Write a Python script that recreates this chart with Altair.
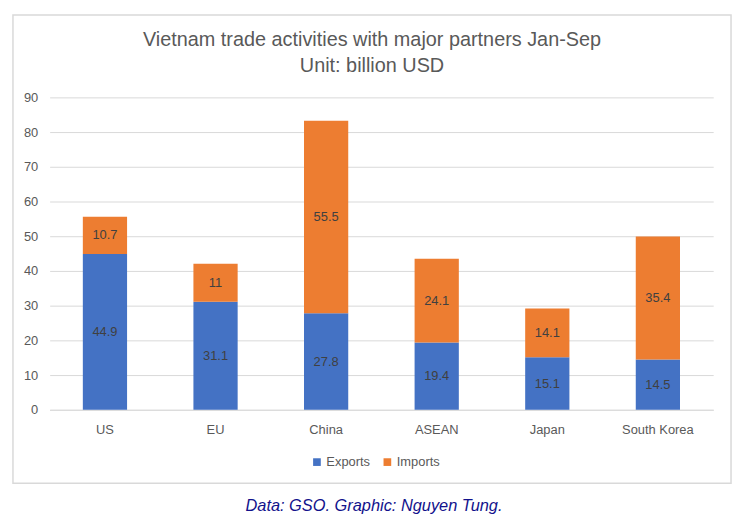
import altair as alt
import pandas as pd

categories = ["US", "EU", "China", "ASEAN", "Japan", "South Korea"]
exports = [44.9, 31.1, 27.8, 19.4, 15.1, 14.5]
imports = [10.7, 11, 55.5, 24.1, 14.1, 35.4]
series = ["Exports", "Imports"]
colors = ["#4472C4", "#ED7D31"]
y_ticks = [0, 10, 20, 30, 40, 50, 60, 70, 80, 90]
title_lines = ["Vietnam trade activities with major partners Jan-Sep", "Unit: billion USD"]
caption = "Data: GSO. Graphic: Nguyen Tung."

rows = []
for c, e, i in zip(categories, exports, imports):
    rows.append({"partner": c, "series": "Exports", "value": e, "ord": 0})
    rows.append({"partner": c, "series": "Imports", "value": i, "ord": 1})
df = pd.DataFrame(rows)

FONT = "Liberation Sans"
yscale = alt.Scale(domain=[0, 90], nice=False)
xscale = alt.Scale(paddingInner=0.6, paddingOuter=0.3)

xaxis = alt.Axis(title=None, labelAngle=0, ticks=False, domainColor="#D9D9D9",
                 labelColor="#595959", labelFontSize=13, labelFont=FONT,
                 labelPadding=14, grid=False)
yaxis = alt.Axis(title=None, values=y_ticks, labelOverlap=False,
                 domain=False, ticks=False,
                 gridColor="#D9D9D9", labelColor="#595959", labelFontSize=13,
                 labelFont=FONT, labelPadding=12)

base = alt.Chart(df).transform_stack(
    stack="value", groupby=["partner"], as_=["v0", "v1"],
    sort=[alt.SortField("ord", order="ascending")]
).transform_calculate(mid="(datum.v0 + datum.v1) / 2")

bars = base.mark_bar().encode(
    x=alt.X("partner:N", sort=categories, scale=xscale, axis=xaxis),
    y=alt.Y("v0:Q", scale=yscale, axis=yaxis),
    y2="v1:Q",
    color=alt.Color("series:N", scale=alt.Scale(domain=series, range=colors),
                    legend=alt.Legend(title=None, orient="none", direction="horizontal",
                                      legendX=263, legendY=361, symbolType="square",
                                      symbolSize=60, symbolStrokeWidth=0,
                                      labelFontSize=13, labelFont=FONT,
                                      labelColor="#595959", columnPadding=10,
                                      labelOffset=3)),
)

labels = base.mark_text(font=FONT, fontSize=13, color="#404040").encode(
    x=alt.X("partner:N", sort=categories, scale=xscale, axis=xaxis),
    y=alt.Y("mid:Q", scale=yscale, axis=yaxis),
    text=alt.Text("value:Q"),
)

one = alt.Data(values=[{"t1": title_lines[0], "t2": title_lines[1], "cap": caption}])

frame = alt.Chart(one).mark_rect(fill="transparent", stroke="#D9D9D9", strokeWidth=1.5).encode(
    x=alt.value(-37), x2=alt.value(687), y=alt.value(-83), y2=alt.value(389)
)
t1 = alt.Chart(one).mark_text(font=FONT, fontSize=20, color="#595959").encode(
    x=alt.value(325), y=alt.value(-58), text="t1:N")
t2 = alt.Chart(one).mark_text(font=FONT, fontSize=20, color="#595959").encode(
    x=alt.value(325), y=alt.value(-32), text="t2:N")
cap = alt.Chart(one).mark_text(font=FONT, fontSize=16.5, fontStyle="italic", color="#12128C").encode(
    x=alt.value(327), y=alt.value(412), text="cap:N")

chart = alt.layer(frame, bars, labels, t1, t2, cap).properties(
    width=669, height=315,
    autosize=alt.AutoSizeParams(type="none"),
    padding={"left": 42, "top": 88, "right": 22, "bottom": 107},
).configure_view(stroke=None)

chart.save("out.html", embed_options={"renderer": "svg", "actions": False})
